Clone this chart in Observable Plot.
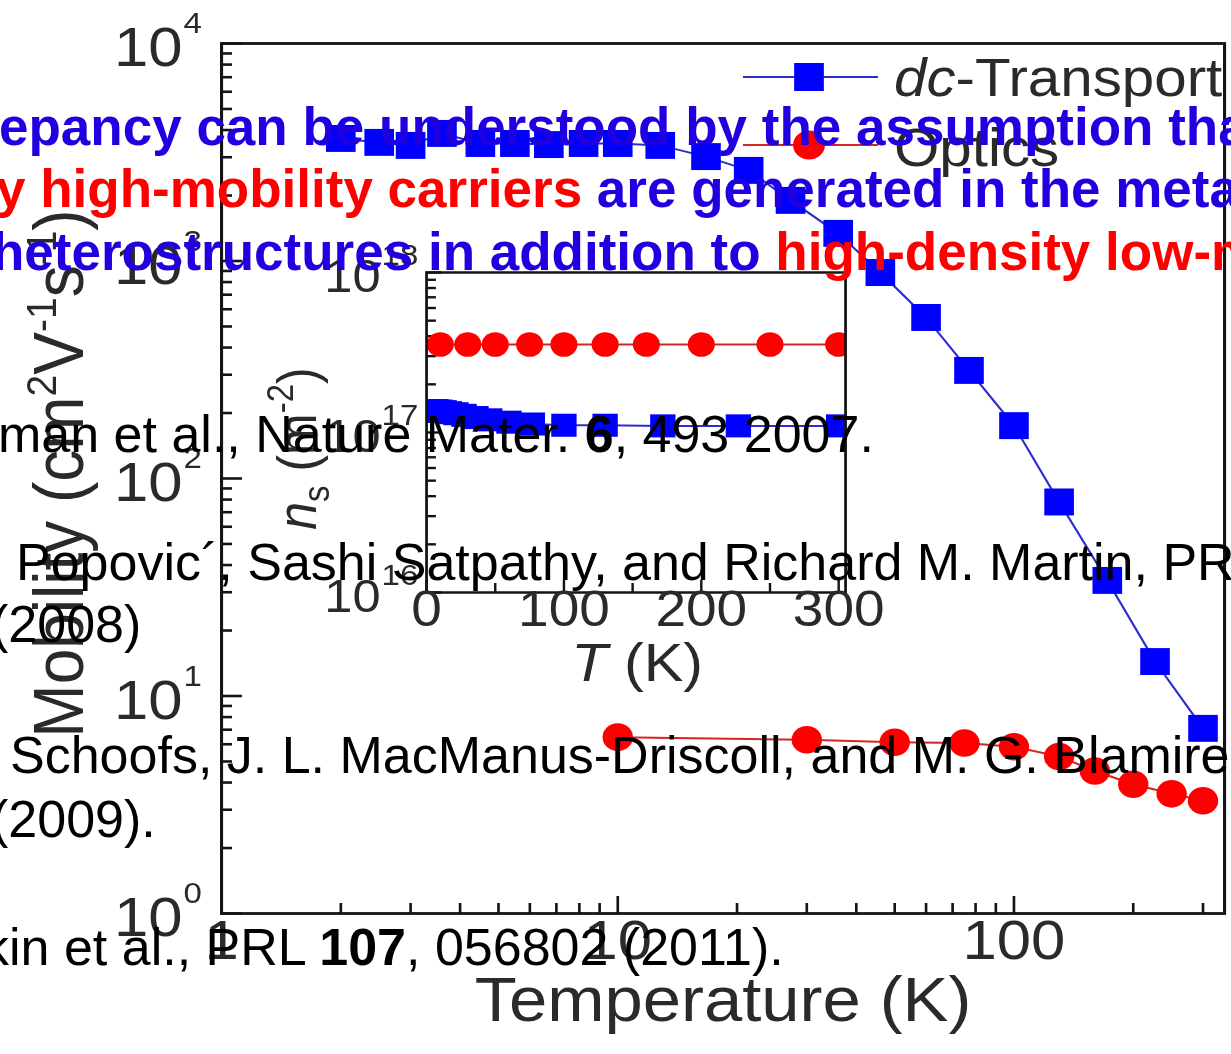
<!DOCTYPE html>
<html>
<head>
<meta charset="utf-8">
<script src="https://cdn.jsdelivr.net/npm/d3@7"></script>
<script src="https://cdn.jsdelivr.net/npm/@observablehq/plot@0.6"></script>
<style>
  html, body { margin: 0; padding: 0; background: #fff; }
  #page { position: relative; width: 1231px; height: 1054px; overflow: hidden; background: #fff; }
  #chart { position: absolute; left: 0; top: 0; width: 1119px; height: 1054px; transform-origin: 0 0; filter: blur(0.5px); }
  #chart svg { position: absolute; left: 0; top: 0; max-width: none; }
  #notes { position: absolute; left: 0; top: 0; }
</style>
</head>
<body>
<div id="page">
  <div id="chart"></div>
  <svg id="notes" width="1231" height="1054"></svg>
</div>
<script>
// ---- Mobility vs temperature (main panel) ----
const dcTemperature = [2, 2.5, 3, 3.6, 4.5, 5.5, 6.7, 8.2, 10, 12.8, 16.7, 21.4, 27.3, 36, 46, 60, 77, 100, 130, 172, 227, 300];
const dcMobility = [3660, 3510, 3400, 3860, 3470, 3470, 3430, 3470, 3470, 3400, 3020, 2610, 1900, 1340, 885, 550, 314, 175, 78, 34, 14.4, 7.1];
const opticsTemperature = [10, 30, 50, 75, 100, 130, 160, 200, 250, 300];
const opticsMobility = [6.47, 6.29, 6.13, 6.08, 5.84, 5.27, 4.52, 3.93, 3.55, 3.3];

// ---- Sheet carrier density vs temperature (inset) ----
const dcDensity = [1.37e17, 1.37e17, 1.37e17, 1.37e17, 1.37e17, 1.37e17, 1.37e17, 1.36e17, 1.36e17, 1.35e17, 1.33e17, 1.31e17, 1.28e17, 1.24e17, 1.2e17, 1.16e17, 1.13e17, 1.11e17, 1.11e17, 1.1e17, 1.1e17, 1.1e17];
const opticsDensity = [3.55e17, 3.55e17, 3.55e17, 3.55e17, 3.55e17, 3.55e17, 3.55e17, 3.55e17, 3.55e17, 3.55e17];

// ---- Axis ticks ----
const minorSteps = [2, 3, 4, 5, 6, 7, 8, 9];
const mobilityTicks = [1, 10, 100, 1000, 10000];
const mobilityTickExponents = ["0", "1", "2", "3", "4"];
const mobilityMinor = [1, 10, 100, 1000].flatMap(d => minorSteps.map(m => m * d));
const temperatureTicks = [1, 10, 100];
const temperatureTickLabels = ["1", "10", "100"];
const temperatureMinor = [2, 3, 4, 5, 6, 7, 8, 9, 20, 30, 40, 50, 60, 70, 80, 90, 200, 300];
const densityTicks = [1e16, 1e17, 1e18];
const densityTickExponents = ["16", "17", "18"];
const densityMinor = [1e16, 1e17].flatMap(d => minorSteps.map(m => m * d));
const insetTempTicks = [0, 100, 200, 300];
const insetTempMinor = [50, 150, 250];

// ---- Slide text laid over the figure ----
const headline = [
  [["epancy can be understood by the assumption that", "blue"]],
  [["y high-mobility carriers", "red"], [" are generated in the metal", "blue"]],
  [["heterostructures in addition to ", "blue"], ["high-density low-mobility", "red"]]
];
const references = [
  [["man et al., Nature Mater. "], ["6", "bold"], [", 493 2007."]],
  [["Popovic\u00B4, Sashi Satpathy, and Richard M. Martin, PRL"]],
  [["(2008)"]],
  [["Schoofs, J. L. MacManus-Driscoll, and M. G. Blamire"]],
  [["(2009)."]],
  [["kin et al., PRL "], ["107", "bold"], [", 056802 (2011)."]]
];

const dc = dcTemperature.map((T, i) => ({T, mobility: dcMobility[i], density: dcDensity[i]}));
const optics = opticsTemperature.map((T, i) => ({T, mobility: opticsMobility[i], density: opticsDensity[i]}));

// The figure is drawn in a narrower space and stretched horizontally.
const W = 1119, H = 1054, S = 1231 / W;
const fx = v => v / S;
const font = "'Liberation Sans', Arial, Helvetica, sans-serif";
const ink = "#2a2a2a", rule = "#141414";
const blueMark = "#0000ff", blueLine = "#2c2cd0", redMark = "#ff0000", redLine = "#d42424";

const frameTop = 43, frameBottom = 913, frameLeft = fx(221), frameRight = fx(1224);
const frameH = frameBottom - frameTop, frameW = frameRight - frameLeft;

const main = Plot.plot({
  width: W, height: H,
  marginLeft: frameLeft, marginRight: W - frameRight, marginTop: frameTop, marginBottom: H - frameBottom,
  x: {type: "log", domain: [1, 340], axis: null},
  y: {type: "log", domain: [1, 1e4], axis: null},
  style: {fontFamily: font, background: "transparent", overflow: "visible"},
  marks: [
    Plot.tickX(temperatureMinor, {x: d => d, stroke: rule, strokeWidth: 2.4, insetTop: frameH - 10}),
    Plot.tickX(temperatureTicks, {x: d => d, stroke: rule, strokeWidth: 2.4, insetTop: frameH - 17}),
    Plot.tickY(mobilityMinor, {y: d => d, stroke: rule, strokeWidth: 2.6, insetRight: frameW - 10}),
    Plot.tickY(mobilityTicks, {y: d => d, stroke: rule, strokeWidth: 2.6, insetRight: frameW - 19}),
    Plot.line(dc, {x: "T", y: "mobility", stroke: blueLine, strokeWidth: 2}),
    Plot.line(optics, {x: "T", y: "mobility", stroke: redLine, strokeWidth: 2}),
    Plot.dot(dc, {x: "T", y: "mobility", symbol: "square", r: 15.2, fill: blueMark}),
    Plot.dot(optics, {x: "T", y: "mobility", r: 13.8, fill: redMark}),
    Plot.frame({stroke: rule, strokeWidth: 2.8}),
    Plot.text(mobilityTicks, {y: d => d, text: () => "10", frameAnchor: "left", textAnchor: "end", dx: -35.5, dy: 5, fontSize: 56, fill: ink}),
    Plot.text(mobilityTicks, {y: d => d, text: (d, i) => mobilityTickExponents[i], frameAnchor: "left", textAnchor: "start", dx: -34.5, dy: -20, fontSize: 30, fill: ink}),
    Plot.text(temperatureTicks, {x: d => d, text: (d, i) => temperatureTickLabels[i], frameAnchor: "bottom", dy: 45, fontSize: 56, fill: ink}),
    Plot.text(["Temperature (K)"], {text: d => d, frameAnchor: "bottom", textAnchor: "middle", dy: 107, fontSize: 62.5, fill: ink}),
    Plot.text(["Mobility (cm2V-1s-1)"], {text: d => d, frameAnchor: "left", textAnchor: "middle", rotate: -90, dx: -146, dy: -5, fontSize: 64, fill: ink})
  ]
});

const insetTop = 272, insetBottom = 592, insetLeft = fx(426), insetRight = fx(845);
const insetH = insetBottom - insetTop, insetW = insetRight - insetLeft;

const inset = Plot.plot({
  width: W, height: H,
  marginLeft: insetLeft, marginRight: W - insetRight, marginTop: insetTop, marginBottom: H - insetBottom,
  x: {domain: [0, 305], axis: null},
  y: {type: "log", domain: [1e16, 1e18], axis: null},
  style: {fontFamily: font, background: "transparent", overflow: "visible"},
  marks: [
    Plot.tickX(insetTempMinor, {x: d => d, stroke: rule, strokeWidth: 2.2, insetTop: insetH - 9}),
    Plot.tickX(insetTempTicks, {x: d => d, stroke: rule, strokeWidth: 2.2, insetTop: insetH - 12}),
    Plot.tickY(densityMinor, {y: d => d, stroke: rule, strokeWidth: 2.4, insetRight: insetW - 9}),
    Plot.tickY(densityTicks, {y: d => d, stroke: rule, strokeWidth: 2.4, insetRight: insetW - 14}),
    Plot.line(dc, {x: "T", y: "density", stroke: blueLine, strokeWidth: 2, clip: true}),
    Plot.line(optics, {x: "T", y: "density", stroke: redLine, strokeWidth: 2, clip: true}),
    Plot.dot(dc, {x: "T", y: "density", symbol: "square", r: 13, fill: blueMark, clip: true}),
    Plot.dot(optics, {x: "T", y: "density", r: 12.3, fill: redMark, clip: true}),
    Plot.frame({stroke: rule, strokeWidth: 2.5}),
    Plot.text(densityTicks, {y: d => d, text: () => "10", frameAnchor: "left", textAnchor: "end", dx: -41.8, dy: 5, fontSize: 46, fill: ink}),
    Plot.text(densityTicks, {y: d => d, text: (d, i) => densityTickExponents[i], frameAnchor: "left", textAnchor: "start", dx: -40.9, dy: -17, fontSize: 30, fill: ink}),
    Plot.text(insetTempTicks, {x: d => d, text: d => String(d), frameAnchor: "bottom", dy: 33, fontSize: 50, fill: ink}),
    Plot.text(["T (K)"], {text: d => d, frameAnchor: "bottom", textAnchor: "middle", dx: 1, dy: 88, fontSize: 54, fill: ink}),
    Plot.text(["ns (m-2)"], {text: d => d, frameAnchor: "left", textAnchor: "middle", rotate: -90, dx: -116.4, dy: 16, fontSize: 50, fill: ink})
  ]
});

// Replace a plain label with styled runs (italics, super- and subscripts).
function styleRuns(svg, content, runs) {
  d3.select(svg).selectAll("text")
    .filter(function () { return this.textContent === content; })
    .each(function () {
      const el = d3.select(this).text(null);
      let shift = 0;
      for (const [txt, o = {}] of runs) {
        const ts = el.append("tspan").text(txt);
        const target = o.dy || 0;
        if (target !== shift) { ts.attr("dy", target - shift); shift = target; }
        if (o.size) ts.attr("font-size", o.size);
        if (o.italic) ts.attr("font-style", "italic");
      }
    });
}
styleRuns(main, "Mobility (cm2V-1s-1)", [
  ["Mobility (cm"], ["2", {dy: -25, size: 39}], ["V"], ["-1", {dy: -25, size: 39}],
  ["s"], ["-1", {dy: -25, size: 39}], [")"]
]);
styleRuns(inset, "ns (m-2)", [
  ["n", {italic: true}], ["s", {dy: 12, size: 33}], [" (m"], ["-2", {dy: -21, size: 33}], [")"]
]);
styleRuns(inset, "T (K)", [["T", {italic: true}], [" (K)"]]);

// Legend in the upper right corner of the main panel
const legend = d3.select(main).append("g")
  .attr("font-family", font).attr("fill", ink).attr("font-size", 53).attr("text-anchor", "start");
[
  {y: 77, base: 96, stroke: blueLine, fill: blueMark, shape: "square", runs: [["dc", true], ["-Transport", false]]},
  {y: 145, base: 166, stroke: redLine, fill: redMark, shape: "circle", runs: [["Optics", false]]}
].forEach(e => {
  legend.append("line").attr("x1", fx(743)).attr("x2", fx(878)).attr("y1", e.y).attr("y2", e.y)
    .attr("stroke", e.stroke).attr("stroke-width", 2.2);
  if (e.shape === "square") {
    legend.append("rect").attr("x", fx(809) - 13.5).attr("y", e.y - 14).attr("width", 27).attr("height", 28).attr("fill", e.fill);
  } else {
    legend.append("circle").attr("cx", fx(809)).attr("cy", e.y).attr("r", 14.5).attr("fill", e.fill);
  }
  const t = legend.append("text").attr("x", fx(894)).attr("y", e.base);
  e.runs.forEach(([s, it]) => t.append("tspan").text(s).attr("font-style", it ? "italic" : null));
});

const chart = document.getElementById("chart");
chart.style.transform = `scaleX(${S})`;
chart.append(main, inset);

// Slide text on top of the figure
const notes = d3.select("#notes").attr("font-family", font);
const palette = {blue: "#2000e0", red: "#ff0000"};
const headX = [-1, -4, -8], headY = [145, 207, 270];
headline.forEach((runs, i) => {
  const t = notes.append("text").attr("x", headX[i]).attr("y", headY[i]).attr("font-size", 53).attr("font-weight", "bold");
  runs.forEach(([s, c]) => t.append("tspan").text(s).attr("fill", palette[c]));
});
const refX = [-2, 16, -9, 10, -9, -17], refY = [452, 580, 642, 773, 837, 965];
references.forEach((runs, i) => {
  const t = notes.append("text").attr("x", refX[i]).attr("y", refY[i]).attr("font-size", 52).attr("fill", "#000");
  runs.forEach(([s, w]) => t.append("tspan").text(s).attr("font-weight", w === "bold" ? "bold" : null));
});
</script>
</body>
</html>
